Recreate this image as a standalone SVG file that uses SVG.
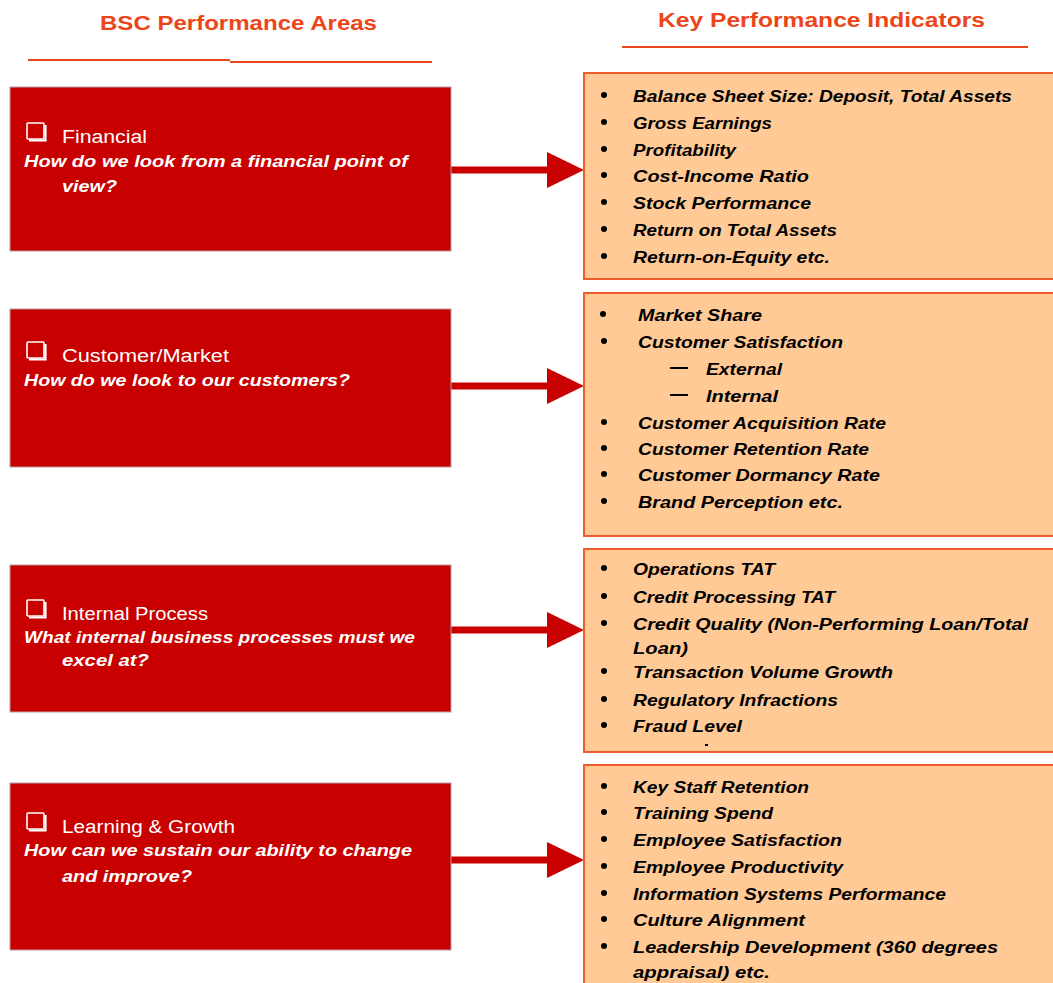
<svg xmlns="http://www.w3.org/2000/svg" width="1053" height="983" viewBox="0 0 1053 983">
<style>
.hdr{font-family:"Liberation Sans",Arial,sans-serif;font-weight:bold;font-size:21px;fill:#EC4519}
.ul{stroke:#E8461E;stroke-width:2;fill:none}
.area{fill:#C80000;stroke:#B8A0A0;stroke-width:1}
.kpi{fill:#FFCA96;stroke:#F15A29;stroke-width:2}
.t1{font-family:"Liberation Sans",Arial,sans-serif;font-size:18px;fill:#fff}
.t2{font-family:"Liberation Sans",Arial,sans-serif;font-size:17px;font-weight:bold;font-style:italic;fill:#fff}
.k{font-family:"Liberation Sans",Arial,sans-serif;font-size:16px;font-weight:bold;font-style:italic;fill:#000}
.chk{fill:none;stroke:#fff;stroke-width:1.6}
.chs{fill:none;stroke:#fff;stroke-width:2.2}
.arr{fill:#C80000}
</style>
<defs>
<g id="cb"><rect class="chk" x="0" y="0" width="17" height="16" rx="1"/><path class="chs" d="M18.5,2 V17.5 H2"/></g>
<g id="ar"><rect x="451" y="-3.5" width="98" height="7"/><polygon points="547,-18 584,0 547,18"/></g>
</defs>
<g id="headers">
<text class="hdr" x="100" y="30" textLength="277" lengthAdjust="spacingAndGlyphs">BSC Performance Areas</text>
<path class="ul" d="M28,60 H230 M230,62 H432"/>
<text class="hdr" x="658" y="27" textLength="327" lengthAdjust="spacingAndGlyphs">Key Performance Indicators</text>
<path class="ul" d="M622,47 H1028"/>
</g>
<g id="connectors" class="arr">
<use href="#ar" transform="translate(0,170)"/>
<use href="#ar" transform="translate(0,386)"/>
<use href="#ar" transform="translate(0,630)"/>
<use href="#ar" transform="translate(0,860)"/>
</g>
<g id="financial">
<rect class="area" x="10" y="87" width="441" height="164"/>
<use href="#cb" x="27" y="123"/>
<text class="t1" x="62" y="143" textLength="85" lengthAdjust="spacingAndGlyphs">Financial</text>
<text class="t2" x="24" y="167" textLength="384" lengthAdjust="spacingAndGlyphs">How do we look from a financial point of</text>
<text class="t2" x="62" y="192" textLength="55" lengthAdjust="spacingAndGlyphs">view?</text>
</g>
<g id="customer">
<rect class="area" x="10" y="309" width="441" height="158"/>
<use href="#cb" x="27" y="342"/>
<text class="t1" x="62" y="362" textLength="167" lengthAdjust="spacingAndGlyphs">Customer/Market</text>
<text class="t2" x="24" y="386" textLength="326" lengthAdjust="spacingAndGlyphs">How do we look to our customers?</text>
</g>
<g id="internal">
<rect class="area" x="10" y="565" width="441" height="147"/>
<use href="#cb" x="27" y="600"/>
<text class="t1" x="62" y="620" textLength="146" lengthAdjust="spacingAndGlyphs">Internal Process</text>
<text class="t2" x="24" y="643" textLength="391" lengthAdjust="spacingAndGlyphs">What internal business processes must we</text>
<text class="t2" x="62" y="666" textLength="87" lengthAdjust="spacingAndGlyphs">excel at?</text>
</g>
<g id="learning">
<rect class="area" x="10" y="783" width="441" height="167"/>
<use href="#cb" x="27" y="813"/>
<text class="t1" x="62" y="833" textLength="173" lengthAdjust="spacingAndGlyphs">Learning &amp; Growth</text>
<text class="t2" x="24" y="856" textLength="388" lengthAdjust="spacingAndGlyphs">How can we sustain our ability to change</text>
<text class="t2" x="62" y="882" textLength="130" lengthAdjust="spacingAndGlyphs">and improve?</text>
</g>
<g id="kpi-financial">
<rect class="kpi" x="584" y="73" width="480" height="206"/>
<g fill="#000"><circle cx="604" cy="95" r="3"/><circle cx="604" cy="122" r="3"/><circle cx="604" cy="149" r="3"/><circle cx="604" cy="175" r="3"/><circle cx="604" cy="202" r="3"/><circle cx="604" cy="229" r="3"/><circle cx="604" cy="256" r="3"/></g>
<text class="k" x="633" y="102" textLength="379" lengthAdjust="spacingAndGlyphs">Balance Sheet Size: Deposit, Total Assets</text>
<text class="k" x="633" y="129" textLength="139" lengthAdjust="spacingAndGlyphs">Gross Earnings</text>
<text class="k" x="633" y="156" textLength="103" lengthAdjust="spacingAndGlyphs">Profitability</text>
<text class="k" x="633" y="182" textLength="176" lengthAdjust="spacingAndGlyphs">Cost-Income Ratio</text>
<text class="k" x="633" y="209" textLength="178" lengthAdjust="spacingAndGlyphs">Stock Performance</text>
<text class="k" x="633" y="236" textLength="204" lengthAdjust="spacingAndGlyphs">Return on Total Assets</text>
<text class="k" x="633" y="263" textLength="197" lengthAdjust="spacingAndGlyphs">Return-on-Equity etc.</text>
</g>
<g id="kpi-customer">
<rect class="kpi" x="584" y="293" width="480" height="243"/>
<g fill="#000"><circle cx="603" cy="314" r="3"/><circle cx="604" cy="341" r="3"/><circle cx="604" cy="422" r="3"/><circle cx="604" cy="448" r="3"/><circle cx="604" cy="474" r="3"/><circle cx="604" cy="501" r="3"/></g>
<path d="M670,368 H688 M670,395 H688" stroke="#000" stroke-width="1.8"/>
<text class="k" x="638" y="321" textLength="124" lengthAdjust="spacingAndGlyphs">Market Share</text>
<text class="k" x="638" y="348" textLength="205" lengthAdjust="spacingAndGlyphs">Customer Satisfaction</text>
<text class="k" x="706" y="375" textLength="76" lengthAdjust="spacingAndGlyphs">External</text>
<text class="k" x="706" y="402" textLength="72" lengthAdjust="spacingAndGlyphs">Internal</text>
<text class="k" x="638" y="429" textLength="248" lengthAdjust="spacingAndGlyphs">Customer Acquisition Rate</text>
<text class="k" x="638" y="455" textLength="231" lengthAdjust="spacingAndGlyphs">Customer Retention Rate</text>
<text class="k" x="638" y="481" textLength="242" lengthAdjust="spacingAndGlyphs">Customer Dormancy Rate</text>
<text class="k" x="638" y="508" textLength="205" lengthAdjust="spacingAndGlyphs">Brand Perception etc.</text>
</g>
<g id="kpi-internal">
<rect class="kpi" x="584" y="549" width="480" height="203"/>
<g fill="#000"><circle cx="604" cy="568" r="3"/><circle cx="604" cy="596" r="3"/><circle cx="604" cy="623" r="3"/><circle cx="604" cy="671" r="3"/><circle cx="604" cy="699" r="3"/><circle cx="604" cy="725" r="3"/></g>
<text class="k" x="633" y="575" textLength="142" lengthAdjust="spacingAndGlyphs">Operations TAT</text>
<text class="k" x="633" y="603" textLength="202" lengthAdjust="spacingAndGlyphs">Credit Processing TAT</text>
<text class="k" x="633" y="630" textLength="395" lengthAdjust="spacingAndGlyphs">Credit Quality (Non-Performing Loan/Total</text>
<text class="k" x="633" y="654" textLength="55" lengthAdjust="spacingAndGlyphs">Loan)</text>
<text class="k" x="633" y="678" textLength="260" lengthAdjust="spacingAndGlyphs">Transaction Volume Growth</text>
<text class="k" x="633" y="706" textLength="205" lengthAdjust="spacingAndGlyphs">Regulatory Infractions</text>
<text class="k" x="633" y="732" textLength="109" lengthAdjust="spacingAndGlyphs">Fraud Level</text>
<rect x="705" y="744" width="3" height="2" fill="#000"/>
</g>
<g id="kpi-learning">
<rect class="kpi" x="584" y="765" width="480" height="240"/>
<g fill="#000"><circle cx="604" cy="786" r="3"/><circle cx="604" cy="812" r="3"/><circle cx="604" cy="839" r="3"/><circle cx="604" cy="866" r="3"/><circle cx="604" cy="893" r="3"/><circle cx="604" cy="919" r="3"/><circle cx="604" cy="946" r="3"/></g>
<text class="k" x="633" y="793" textLength="176" lengthAdjust="spacingAndGlyphs">Key Staff Retention</text>
<text class="k" x="633" y="819" textLength="140" lengthAdjust="spacingAndGlyphs">Training Spend</text>
<text class="k" x="633" y="846" textLength="209" lengthAdjust="spacingAndGlyphs">Employee Satisfaction</text>
<text class="k" x="633" y="873" textLength="210" lengthAdjust="spacingAndGlyphs">Employee Productivity</text>
<text class="k" x="633" y="900" textLength="313" lengthAdjust="spacingAndGlyphs">Information Systems Performance</text>
<text class="k" x="633" y="926" textLength="172" lengthAdjust="spacingAndGlyphs">Culture Alignment</text>
<text class="k" x="633" y="953" textLength="365" lengthAdjust="spacingAndGlyphs">Leadership Development (360 degrees</text>
<text class="k" x="633" y="978" textLength="137" lengthAdjust="spacingAndGlyphs">appraisal) etc.</text>
</g>
</svg>
